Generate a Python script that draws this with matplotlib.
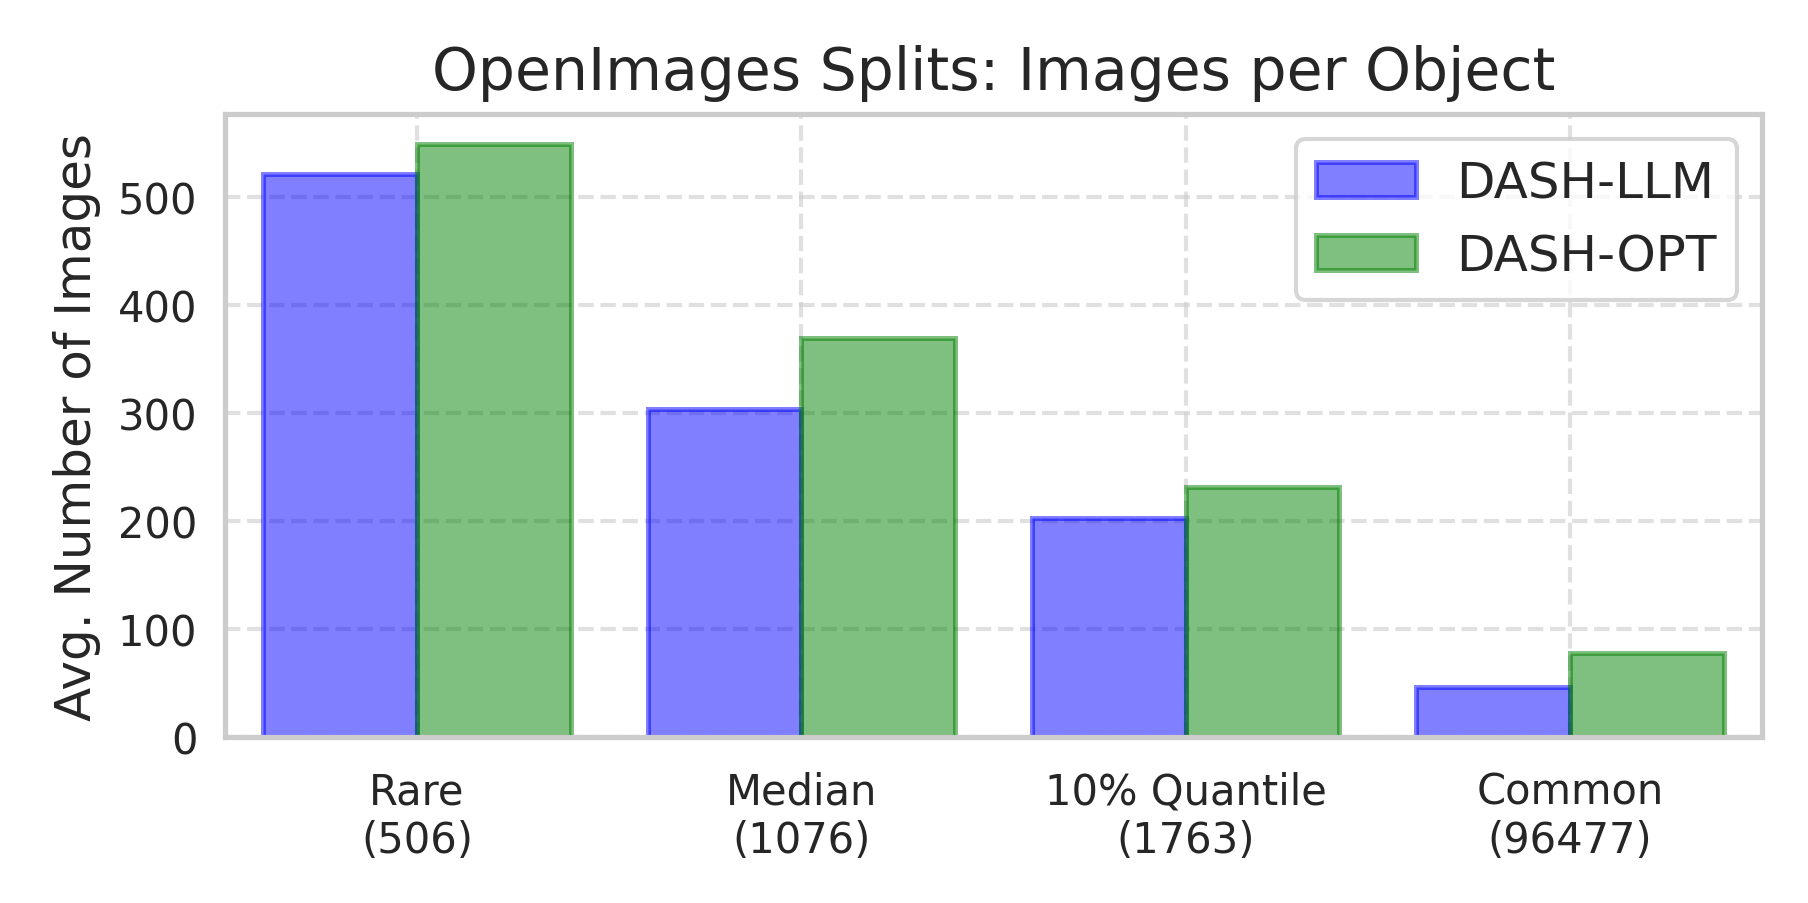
import numpy as np
import matplotlib
matplotlib.use("Agg")
import matplotlib.pyplot as plt
import seaborn as sns

categories = ["Rare\n(506)", "Median\n(1076)", "10% Quantile\n(1763)", "Common\n(96477)"]
dash_llm = [521, 304, 203, 46]
dash_opt = [549, 369, 231, 78]

sns.set_theme(style="whitegrid")

fig, ax = plt.subplots(figsize=(6.027, 3.013), dpi=300)
fig.subplots_adjust(left=0.1244, right=0.9745, top=0.8724, bottom=0.1837)

x = np.arange(len(categories))
width = 0.4
ax.bar(x - width / 2, dash_llm, width, color="blue", alpha=0.5, edgecolor="blue", linewidth=1.2, label="DASH-LLM")
ax.bar(x + width / 2, dash_opt, width, color="green", alpha=0.5, edgecolor="green", linewidth=1.2, label="DASH-OPT")

ax.set_xlim(-0.5, 3.5)
ax.set_xticks(x)
ax.set_xticklabels(categories, fontsize=10)
ax.tick_params(axis="y", labelsize=10, pad=0.6)
ax.tick_params(axis="x", pad=2)
ax.set_ylabel("Avg. Number of Images", fontsize=12)
ax.set_title("OpenImages Splits: Images per Object", fontsize=14)
ax.grid(True, linestyle="--", alpha=0.6)
ax.legend(loc="upper right", fontsize=12)

fig.savefig("out.png", dpi=300)
